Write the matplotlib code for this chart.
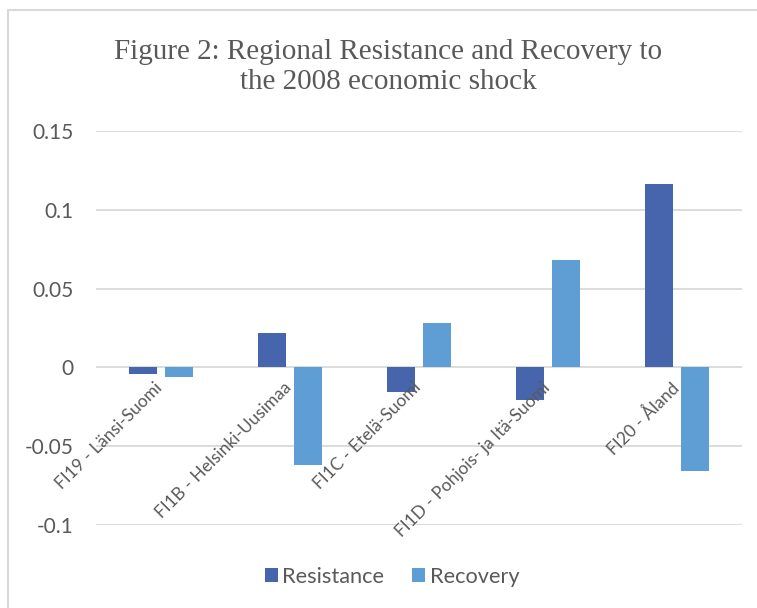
import matplotlib
matplotlib.use("Agg")
import matplotlib.pyplot as plt
from matplotlib.patches import Rectangle
import numpy as np

categories = ["FI19 - Länsi-Suomi", "FI1B - Helsinki-Uusimaa", "FI1C - Etelä-Suomi",
              "FI1D - Pohjois- ja Itä-Suomi", "FI20 - Åland"]
resistance = [-0.0045, 0.022, -0.0153, -0.021, 0.1165]
recovery = [-0.006, -0.0622, 0.0282, 0.068, -0.0657]
yticks = [-0.1, -0.05, 0, 0.05, 0.1, 0.15]
ytick_labels = ["-0.1", "-0.05", "0", "0.05", "0.1", "0.15"]

c_res = "#4765AD"
c_rec = "#5F9ED4"
gray = "#595959"
font = "Lato"

fig = plt.figure(figsize=(7.57, 6.08), dpi=100)
fig.patches.append(Rectangle((8 / 757, -0.1), 1.2, (608 - 10) / 608 + 0.1, transform=fig.transFigure,
                             fill=False, edgecolor="#D9D9D9", linewidth=1.5))

ax = fig.add_axes([96 / 757, (608 - 525) / 608, (742 - 96) / 757, (525 - 131) / 608])
x = np.arange(len(categories))
w = 0.217
off = 0.139
ax.bar(x - off, resistance, w, color=c_res, label="Resistance", zorder=3)
ax.bar(x + off, recovery, w, color=c_rec, label="Recovery", zorder=3)

ax.set_xlim(-0.5, len(categories) - 0.5)
ax.set_ylim(-0.1, 0.15)
ax.set_yticks(yticks)
ax.set_yticklabels(ytick_labels, fontsize=15, color=gray, family=font)
ax.tick_params(axis="y", length=0, pad=16)
ax.set_xticks([])
ax.grid(axis="y", color="#D9D9D9", linewidth=1.3, zorder=0)
for s in ax.spines.values():
    s.set_visible(False)

for i, lab in enumerate(categories):
    ax.text(i + 0.04, -0.0075, lab, rotation=45, ha="right", va="top",
            fontsize=12.5, color=gray, family=font, zorder=4)

fig.text(388 / 757, 0.89, "Figure 2: Regional Resistance and Recovery to\nthe 2008 economic shock",
         ha="center", va="center", fontsize=21, family="Liberation Serif", color=gray,
         linespacing=1.2)

leg = fig.legend(loc="center", bbox_to_anchor=(392 / 757, (608 - 577) / 608), ncol=2, frameon=False,
                 prop={"family": font, "size": 15.7}, handlelength=0.6, handleheight=0.6,
                 handletextpad=0.2, columnspacing=1.3)
for t in leg.get_texts():
    t.set_color(gray)

fig.savefig("out.png", dpi=100)
